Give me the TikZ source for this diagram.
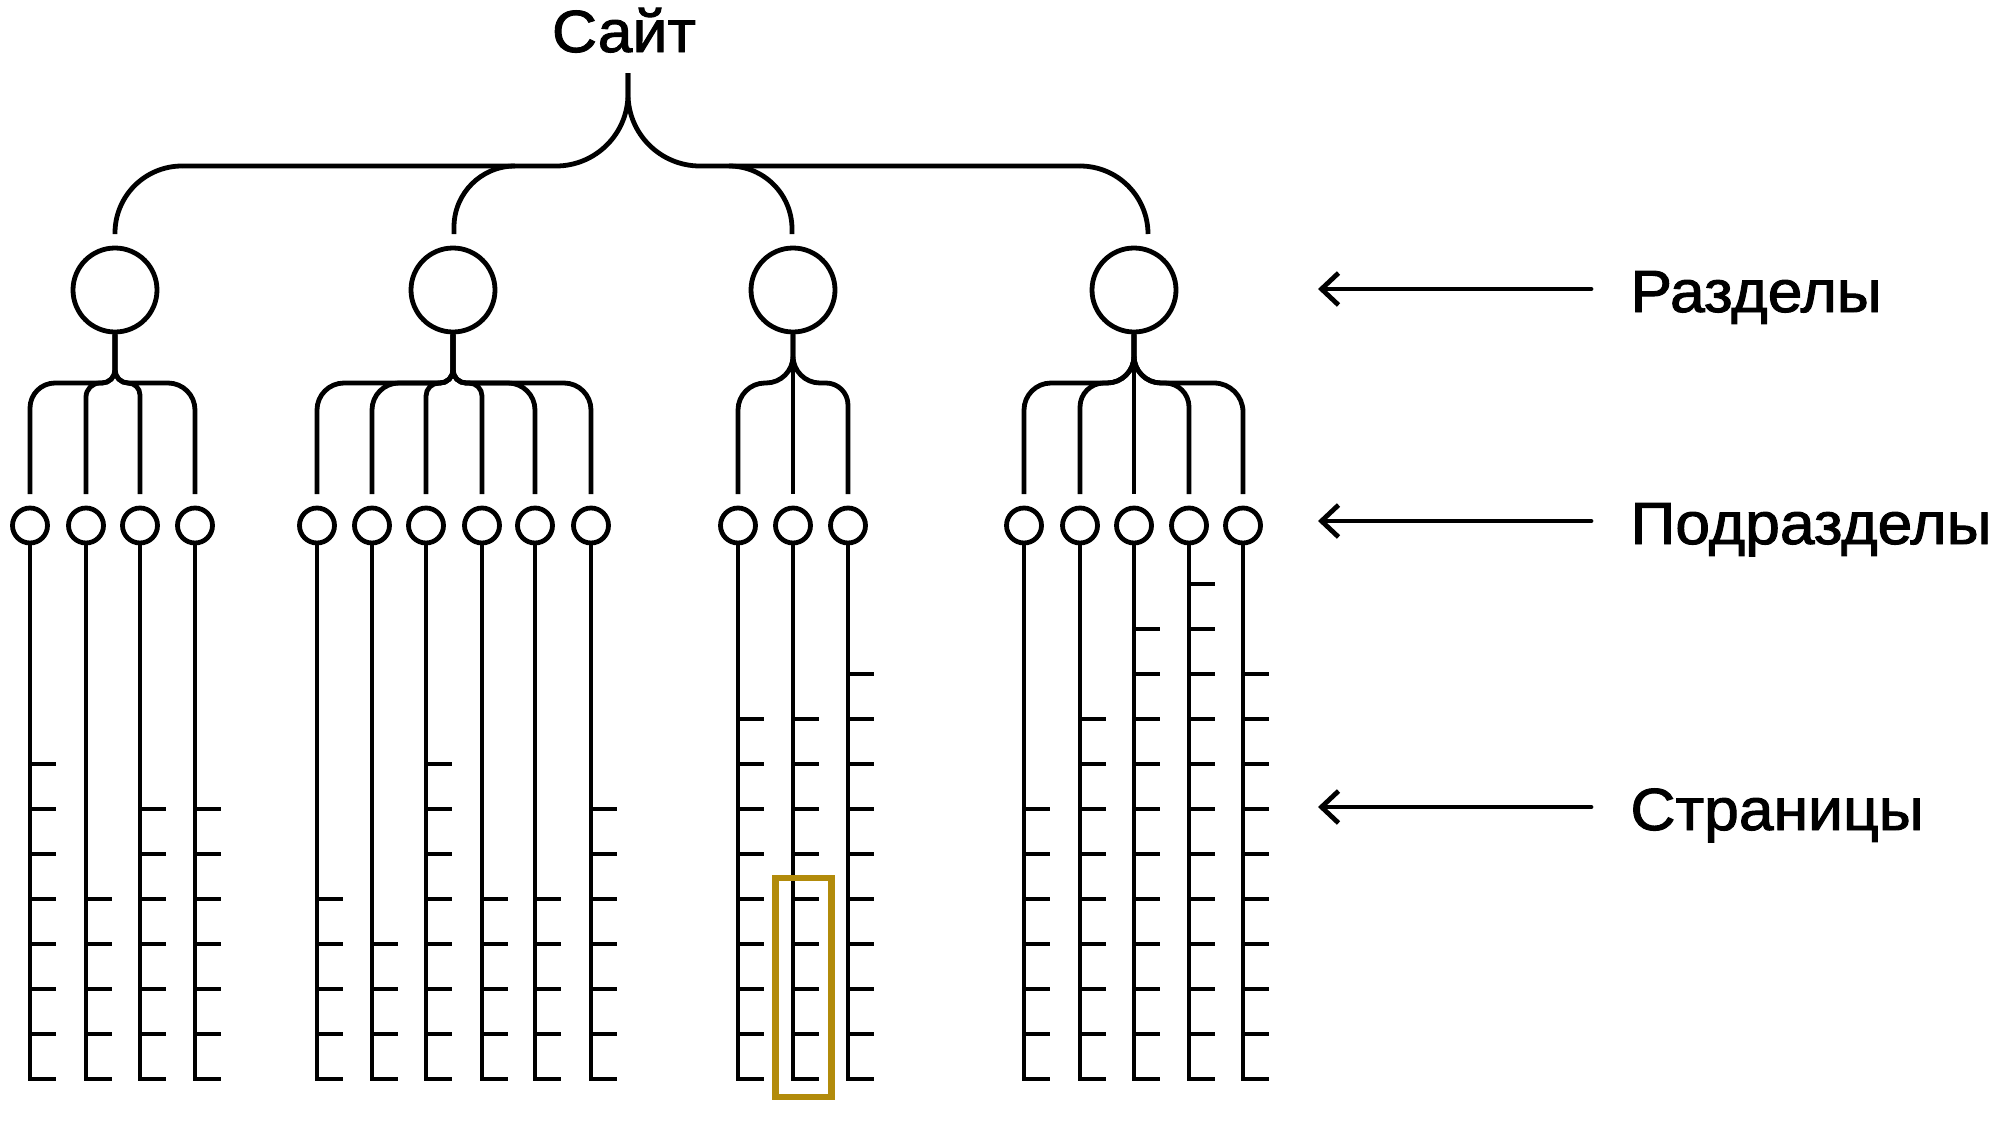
\documentclass[tikz,border=0pt]{standalone}
\usepackage{fontspec}
\setmainfont{Liberation Sans}
\newfontfamily\lblfont[FakeBold=1.6,FakeStretch=1.05]{Liberation Sans}
\usetikzlibrary{arrows.meta,calc}
\definecolor{hlgold}{RGB}{178,139,11}
\newcommand\kid[4]{% section node, child node, stem radius, child radius
  \draw let \p1=(#1.south), \p2=(#2.north), \n1={sign(\x2-\x1)} in
    (\p1) -- (\x1,{-383pt+#3pt})
    arc[start angle={90+90*\n1}, end angle={90+180*\n1}, radius=#3pt]
    -- ({\x2-\n1*#4pt},-383pt)
    arc[start angle=90, end angle={90-90*\n1}, radius=#4pt]
    -- (\x2,-494pt);}
\newcommand\kidstraight[2]{%
  \draw let \p1=(#1.south), \p2=(#2.north) in (\p1) -- (\x1,-494pt);}
\newcommand\pages[2]{% child node, number of extra ticks
  \draw[line join=miter] let \p1=(#1.south) in (\p1) -- (\x1,-1079pt) -- ({\x1+26pt},-1079pt);
  \foreach \k in {1,...,#2}{
    \draw let \p1=(#1.south) in (\x1,{(-1079+45*\k)*1pt}) -- ++(26pt,0pt);}}
\begin{document}
\begin{tikzpicture}[x=1pt,y=1pt,line width=4.8pt,
  secnode/.style={circle,draw,line width=4.8pt,minimum size=84pt,inner sep=0pt},
  subnode/.style={circle,draw,line width=4.8pt,minimum size=35pt,inner sep=0pt},
  lbl/.style={inner sep=0pt,font=\lblfont\fontsize{59.5}{62}\selectfont},
  pointer/.style={line cap=round,-{Straight Barb[length=17pt,width=32pt]}}]
\useasboundingbox (0,0) rectangle (2007,-1120);
\fill[white] (0,0) rectangle (2007,-1120);

% root
\node[lbl,anchor=base] (site) at (624,-52) {Сайт};
\coordinate (rt) at (628,-73);

% sections
\node[secnode] (s1) at (115,-290) {};
\node[secnode] (s2) at (453,-290) {};
\node[secnode] (s3) at (793,-290) {};
\node[secnode] (s4) at (1134,-290) {};
\coordinate (a1) at (115,-234);
\coordinate (a2) at (454,-234);
\coordinate (a3) at (792,-234);
\coordinate (a4) at (1148,-234);

\draw[rounded corners=72pt] (rt) |- (182,-166);
\draw[rounded corners=72pt] (rt) |- (1080,-166);
\draw[rounded corners=67pt] (182,-166) -| (a1);
\draw[rounded corners=61pt] (515,-166) -| (a2);
\draw[rounded corners=63pt] (729,-166) -| (a3);
\draw[rounded corners=68pt] (1080,-166) -| (a4);

% subsections
\foreach \n/\x in {c11/30,c12/86,c13/140,c14/195,
  c21/317,c22/372,c23/426,c24/482,c25/535,c26/591,
  c31/738,c32/793,c33/848,
  c41/1024,c42/1080,c43/1134,c44/1189,c45/1243}
  \node[subnode] (\n) at (\x,-525.5) {};

\kid{s1}{c11}{13}{25}
\kid{s1}{c12}{13}{14}
\kid{s1}{c13}{13}{12}
\kid{s1}{c14}{13}{27}

\kid{s2}{c21}{13}{27}
\kid{s2}{c22}{13}{27}
\kid{s2}{c23}{13}{13}
\kid{s2}{c24}{13}{13}
\kid{s2}{c25}{13}{27}
\kid{s2}{c26}{13}{27}

\kid{s3}{c31}{27}{27}
\kidstraight{s3}{c32}
\kid{s3}{c33}{27}{22}

\kid{s4}{c41}{27}{27}
\kid{s4}{c42}{27}{24}
\kidstraight{s4}{c43}
\kid{s4}{c44}{27}{24}
\kid{s4}{c45}{27}{29}

% pages
\pages{c11}{7}\pages{c12}{4}\pages{c13}{6}\pages{c14}{6}
\pages{c21}{4}\pages{c22}{3}\pages{c23}{7}\pages{c24}{4}\pages{c25}{4}\pages{c26}{6}
\pages{c31}{8}\pages{c32}{8}\pages{c33}{9}
\pages{c41}{6}\pages{c42}{8}\pages{c43}{10}\pages{c44}{11}\pages{c45}{9}

% highlight
\node[draw=hlgold,line width=6.5pt,minimum width=56pt,minimum height=219pt,inner sep=0pt] (focus) at (803.5,-987.5) {};

% labels
\node[lbl,anchor=base west] (l1) at (1628,-312) {Разделы};
\node[lbl,anchor=base west] (l2) at (1628,-544) {Подразделы};
\node[lbl,anchor=base west] (l3) at (1628,-830) {Страницы};
\coordinate (p1a) at (1591,-289); \coordinate (p1b) at (1318,-289);
\coordinate (p2a) at (1591,-521); \coordinate (p2b) at (1318,-521);
\coordinate (p3a) at (1591,-807); \coordinate (p3b) at (1318,-807);
\draw[pointer] (p1a) -- (p1b);
\draw[pointer] (p2a) -- (p2b);
\draw[pointer] (p3a) -- (p3b);
\end{tikzpicture}
\end{document}
